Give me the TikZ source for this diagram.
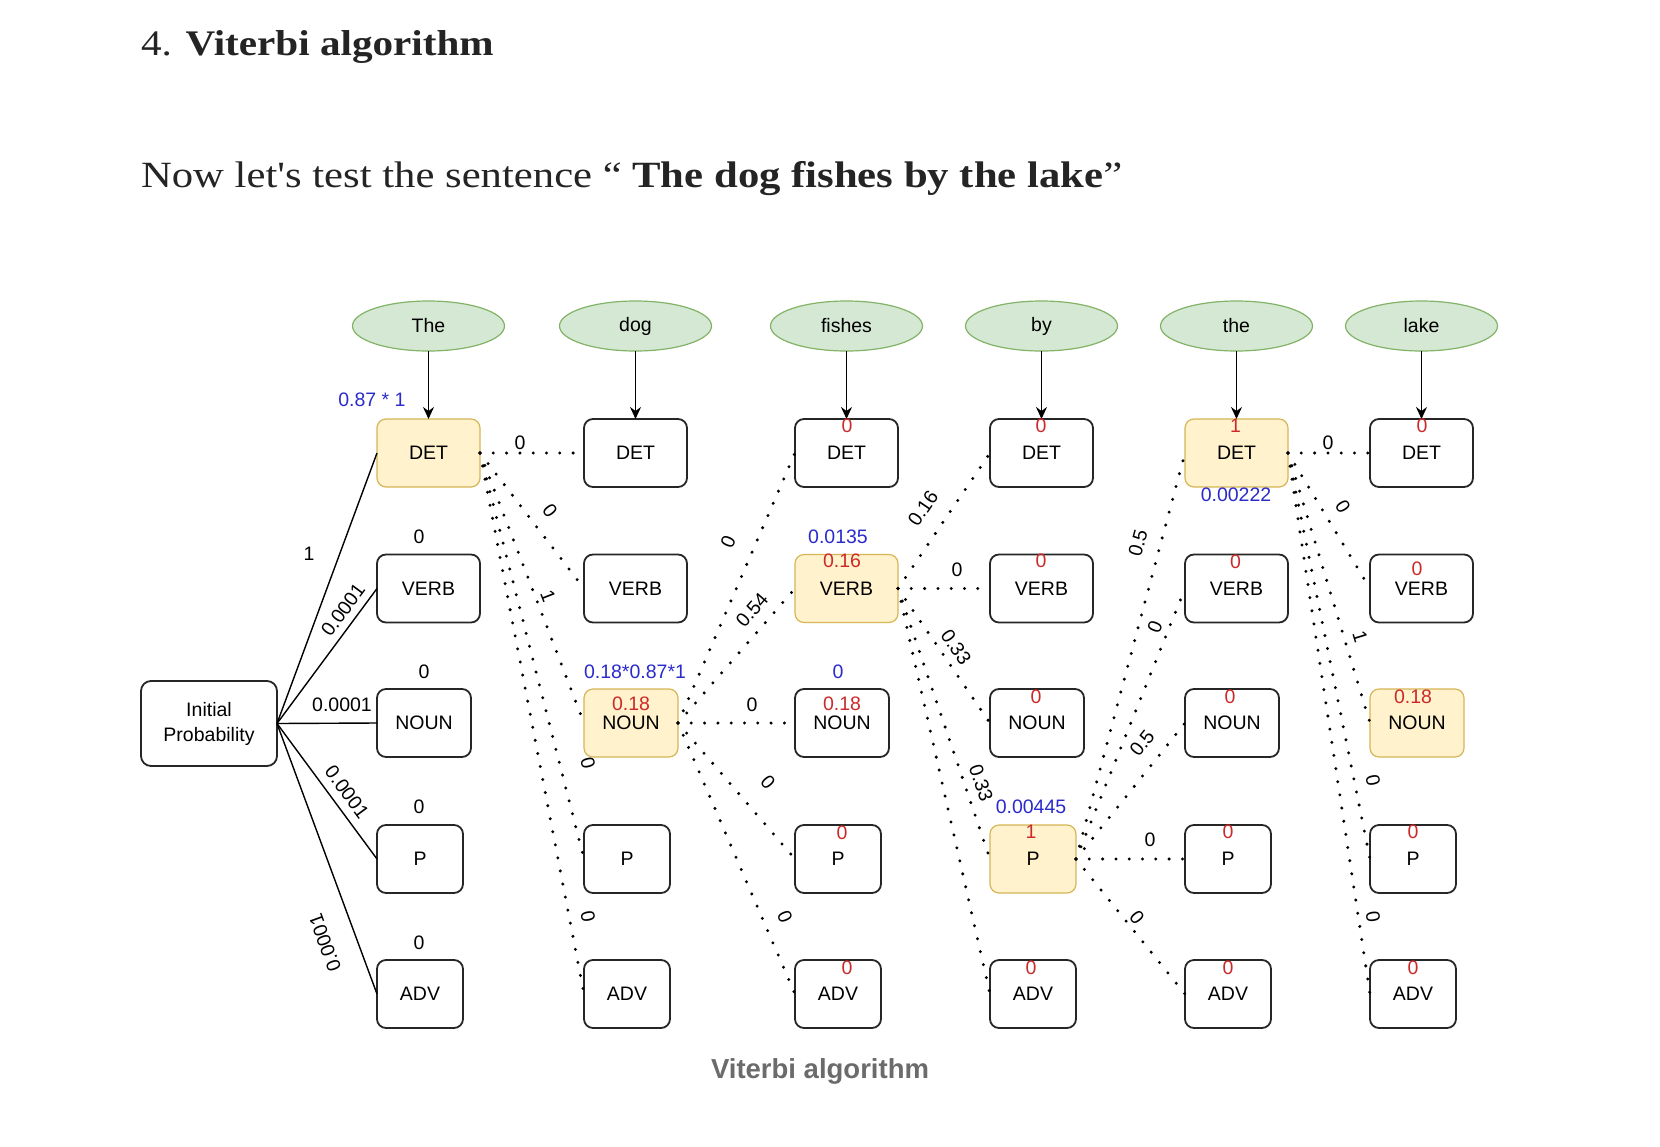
\documentclass[tikz,border=0pt]{standalone}
\usepackage{fontspec}
\setmainfont{Liberation Sans}
\newfontfamily\serifont{Liberation Serif}
\usetikzlibrary{arrows.meta,shapes.geometric}
\definecolor{yfill}{HTML}{FFF2CC}
\definecolor{ydraw}{HTML}{D6B656}
\definecolor{gfill}{HTML}{D5E8D4}
\definecolor{gdraw}{HTML}{82B366}
\definecolor{redlab}{HTML}{CC2A2A}
\definecolor{bluelab}{HTML}{2B2BCC}
\definecolor{capgray}{HTML}{6B6B6B}
\definecolor{boxdraw}{HTML}{262626}
\definecolor{txt}{HTML}{242424}
\begin{document}
\begin{tikzpicture}[x=1pt,y=-1pt,
  every node/.style={inner sep=0pt, outer sep=0pt, font=\fontsize{19.5}{22}\selectfont},
  tag/.style={draw=boxdraw, line width=1.8pt, rounded corners=9pt, minimum height=68pt},
  wA/.style={minimum width=103pt},
  wB/.style={minimum width=94pt},
  wC/.style={minimum width=86pt},
  hl/.style={fill=yfill, draw=ydraw, line width=1.2pt},
  wd/.style={ellipse, fill=gfill, draw=gdraw, line width=1.2pt, minimum width=152pt, minimum height=50pt},
  dotline/.style={line width=3.3pt, line cap=round, dash pattern=on 0pt off 13.3pt},
  initline/.style={line width=1.4pt},
  feed/.style={line width=1.6pt, -{Stealth[length=12pt,width=11pt,inset=4pt]}},
  elab/.style={text=black},
  rlab/.style={text=redlab},
  blab/.style={text=bluelab},
]
\path[fill=white] (0,0) rectangle (1660,1146);
\useasboundingbox (0,0) rectangle (1660,1146);

% ---- headings ----
\node[anchor=base west, text=txt] (title) at (141,55)
  {\scalebox{1.143}[1]{\serifont\fontsize{36}{40}\selectfont 4. \textbf{Viterbi algorithm}}};
\node[anchor=base west, text=txt] (sub) at (141,187)
  {\scalebox{1.154}[1]{\serifont\fontsize{37}{40}\selectfont Now let's test the sentence “ \textbf{The dog fishes by the lake}”}};
\node[anchor=base, text=capgray, font=\fontsize{27.5}{30}\selectfont\bfseries] (cap) at (820,1078) {Viterbi algorithm};

% ---- word ellipses ----
\node[wd] (w1) at (428.5,326) {The};
\node[wd] (w2) at (635.5,326) {dog};
\node[wd] (w3) at (846.5,326) {fishes};
\node[wd] (w4) at (1041.5,326) {by};
\node[wd] (w5) at (1236.5,326) {the};
\node[wd] (w6) at (1421.5,326) {lake};

% ---- initial probability ----
\node[draw=boxdraw, line width=1.8pt, rounded corners=10pt, minimum width=136pt, minimum height=85pt,
      align=center, font=\fontsize{19.5}{25}\selectfont] (ip) at (209,723.5) {Initial\\Probability};

% ---- tag boxes ----
% column 1
\node[tag,wA,hl] (d1) at (428.5,453) {DET};
\node[tag,wA] (v1) at (428.5,588.5) {VERB};
\node[tag,wB] (n1) at (424,723) {NOUN};
\node[tag,wC] (p1) at (420,859) {P};
\node[tag,wC] (a1) at (420,994) {ADV};
% column 2
\node[tag,wA] (d2) at (635.5,453) {DET};
\node[tag,wA] (v2) at (635.5,588.5) {VERB};
\node[tag,wB,hl] (n2) at (631,723) {NOUN};
\node[tag,wC] (p2) at (627,859) {P};
\node[tag,wC] (a2) at (627,994) {ADV};
% column 3
\node[tag,wA] (d3) at (846.5,453) {DET};
\node[tag,wA,hl] (v3) at (846.5,588.5) {VERB};
\node[tag,wB] (n3) at (842,723) {NOUN};
\node[tag,wC] (p3) at (838,859) {P};
\node[tag,wC] (a3) at (838,994) {ADV};
% column 4
\node[tag,wA] (d4) at (1041.5,453) {DET};
\node[tag,wA] (v4) at (1041.5,588.5) {VERB};
\node[tag,wB] (n4) at (1037,723) {NOUN};
\node[tag,wC,hl] (p4) at (1033,859) {P};
\node[tag,wC] (a4) at (1033,994) {ADV};
% column 5
\node[tag,wA,hl] (d5) at (1236.5,453) {DET};
\node[tag,wA] (v5) at (1236.5,588.5) {VERB};
\node[tag,wB] (n5) at (1232,723) {NOUN};
\node[tag,wC] (p5) at (1228,859) {P};
\node[tag,wC] (a5) at (1228,994) {ADV};
% column 6
\node[tag,wA] (d6) at (1421.5,453) {DET};
\node[tag,wA] (v6) at (1421.5,588.5) {VERB};
\node[tag,wB,hl] (n6) at (1417,723) {NOUN};
\node[tag,wC] (p6) at (1413,859) {P};
\node[tag,wC] (a6) at (1413,994) {ADV};

% ---- word -> DET arrows ----
\foreach \i in {1,...,6} \draw[feed] (w\i.south) -- (d\i.north);

% ---- initial probability edges ----
\draw[initline] (ip.east) -- (d1.west);
\draw[initline] (ip.east) -- (v1.west);
\draw[initline] (ip.east) -- (n1.west);
\draw[initline] (ip.east) -- (p1.west);
\draw[initline] (ip.east) -- (a1.west);
\node[elab] at (309,554) {1};
\node[elab, rotate=53.5] at (343,610) {0.0001};
\node[elab] at (342,705) {0.0001};
\node[elab, rotate=-53.7] at (347,792) {0.0001};
\node[elab, rotate=110] at (325,943) {0.0001};

% ---- column 1 -> 2 ----
\foreach \t in {d2,v2,n2,p2,a2} \draw[dotline] (d1.east) -- (\t.west);
\node[elab] at (520,443) {0};
\node[elab, rotate=-52.5] at (550,511) {0};
\node[elab, rotate=-68.9] at (548,596) {1};
\node[elab, rotate=-75.6] at (588,763) {0};
\node[elab, rotate=-79.1] at (588,917) {0};

% ---- column 2 -> 3 ----
\foreach \t in {d3,v3,n3,p3,a3} \draw[dotline] (n2.east) -- (\t.west);
\node[elab, rotate=66.6] at (728,542) {0};
\node[elab, rotate=49] at (752,610) {0.54};
\node[elab] at (752,705) {0};
\node[elab, rotate=-49.3] at (768,782) {0};
\node[elab, rotate=-66.6] at (785,917) {0};

% ---- column 3 -> 4 ----
\foreach \t in {d4,v4,n4,p4,a4} \draw[dotline] (v3.east) -- (\t.west);
\node[elab, rotate=55.8] at (923,508) {0.16};
\node[elab] at (957,570) {0};
\node[elab, rotate=-55.6] at (956,647) {0.33};
\node[elab, rotate=-71.2] at (981,783) {0.33};

% ---- column 4 -> 5 ----
\foreach \t in {d5,v5,n5,p5,a5} \draw[dotline] (p4.east) -- (\t.west);
\node[elab, rotate=75] at (1138,543) {0.5};
\node[elab, rotate=68.1] at (1155,627) {0};
\node[elab, rotate=51.3] at (1142,743) {0.5};
\node[elab] at (1150,840) {0};
\node[elab, rotate=-51.1] at (1137,917) {0};

% ---- column 5 -> 6 ----
\foreach \t in {d6,v6,n6,p6,a6} \draw[dotline] (d5.east) -- (\t.west);
\node[elab] at (1328,443) {0};
\node[elab, rotate=-58.5] at (1343,507) {0};
\node[elab, rotate=-73] at (1360,637) {1};
\node[elab, rotate=-78.4] at (1373,780) {0};
\node[elab, rotate=-81.3] at (1373,917) {0};

% ---- score labels column 1 ----
\node[blab] at (372,400) {0.87 * 1};
\node[elab] at (419,537) {0};
\node[elab] at (424,672) {0};
\node[elab] at (419,807) {0};
\node[elab] at (419,943) {0};

% ---- blue labels ----
\node[blab] at (635,672) {0.18*0.87*1};
\node[blab] at (838,537) {0.0135};
\node[blab] at (838,672) {0};
\node[blab] at (1031,807) {0.00445};
\node[blab] at (1236,495) {0.00222};

% ---- red labels ----
\node[rlab] at (631,704) {0.18};
\node[rlab] at (847,426) {0};
\node[rlab] at (842,561) {0.16};
\node[rlab] at (842,704) {0.18};
\node[rlab] at (842,833) {0};
\node[rlab] at (847,968) {0};
\node[rlab] at (1041,426) {0};
\node[rlab] at (1041,561) {0};
\node[rlab] at (1036,697) {0};
\node[rlab] at (1031,832) {1};
\node[rlab] at (1031,968) {0};
\node[rlab] at (1235.5,426) {1};
\node[rlab] at (1235.5,562) {0};
\node[rlab] at (1230,697) {0};
\node[rlab] at (1228,832) {0};
\node[rlab] at (1228,968) {0};
\node[rlab] at (1422,426) {0};
\node[rlab] at (1417,569) {0};
\node[rlab] at (1413,697) {0.18};
\node[rlab] at (1413,832) {0};
\node[rlab] at (1413,968) {0};
\end{tikzpicture}
\end{document}
